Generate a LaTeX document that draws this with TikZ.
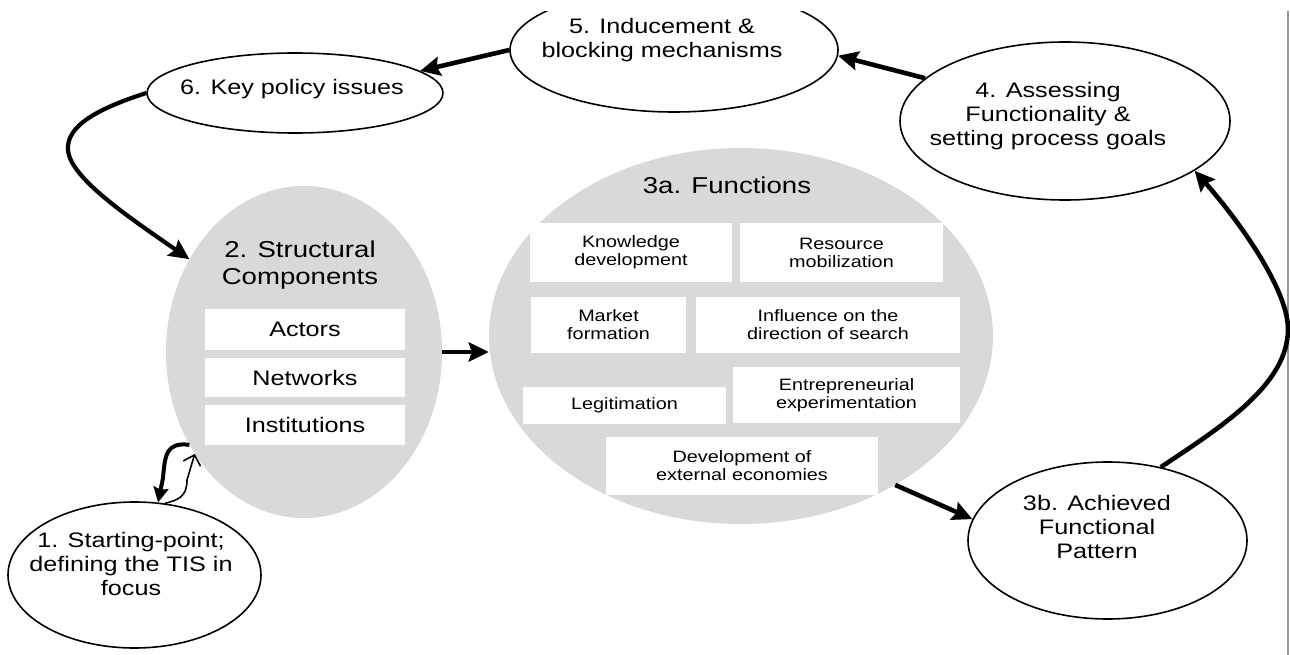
\documentclass[tikz,border=0pt]{standalone}
\usepackage{fontspec}
\setmainfont{Liberation Sans}[FakeStretch=1.2]
\usetikzlibrary{shapes.geometric,arrows.meta}
\definecolor{blobgray}{RGB}{217,217,217}
\definecolor{framegray}{RGB}{150,150,150}
\newcommand{\fsz}[2]{\fontsize{#1}{#2}\selectfont}
\tikzset{
  bub/.style={ellipse, draw=black, line width=1.6pt, inner sep=0pt},
  blob/.style={ellipse, fill=blobgray, inner sep=0pt},
  wbox/.style={rectangle, fill=white, inner sep=0pt, align=center, font=\fsz{16.5}{18}},
  sbox/.style={rectangle, fill=white, inner sep=0pt, align=center, font=\fsz{21}{24}},
  lbl/.style={align=center, inner sep=0pt, font=\fsz{21}{24}},
  ttl/.style={align=center, inner sep=0pt, font=\fsz{23}{27}},
  arr/.style={line width=4.6pt, -{Stealth[length=20pt 0 0,width=19pt 0 0,inset=3pt]}},
  harr/.style={line width=4pt, -{Stealth[length=15pt 0 0,width=15pt 0 0,inset=2pt]}},
  tarr/.style={line width=1.6pt, -{Straight Barb[length=9pt 0 0,width=18pt 0 0]}},
  frameline/.style={draw=framegray, line width=1.2pt},
}
\begin{document}
\begin{tikzpicture}[x=1pt,y=-1pt]
\useasboundingbox (0,0) rectangle (1290,655);
\fill[white] (0,0) rectangle (1290,655);

% gray blobs
\node[blob, minimum width=276pt, minimum height=332pt] (e2) at (304,352) {};
\node[blob, minimum width=504pt, minimum height=376pt] (e3a) at (741,336) {};

% structural components
\node[ttl] (t2) at (300,265) {2. Structural\\Components};
\node[sbox, minimum width=200pt, minimum height=41pt] (actors) at (305,329.5) {Actors};
\node[sbox, minimum width=200pt, minimum height=39pt] (networks) at (305,377.5) {Networks};
\node[sbox, minimum width=200pt, minimum height=40pt] (institutions) at (305,425) {Institutions};

% functions
\node[ttl] (t3a) at (727,185) {3a. Functions};
\node[wbox, minimum width=202pt, minimum height=59pt] (kd) at (631,252.5) {Knowledge\\development};
\node[wbox, minimum width=203pt, minimum height=59pt] (rm) at (841.5,252.5) {Resource\\mobilization};
\node[wbox, minimum width=155pt, minimum height=56pt] (mf) at (608.5,325) {Market\\formation};
\node[wbox, minimum width=264pt, minimum height=56pt] (ids) at (828,325) {Influence on the\\direction of search};
\node[wbox, minimum width=203pt, minimum height=37pt] (leg) at (624.5,405.5) {Legitimation};
\node[wbox, minimum width=227pt, minimum height=56pt] (ee) at (846.5,395) {Entrepreneurial\\experimentation};
\node[wbox, minimum width=272pt, minimum height=58pt] (dee) at (742,466) {Development of\\external economies};

% outlined bubbles
\node[bub, minimum width=296pt, minimum height=80pt] (e6) at (295,93) {};
\node[lbl] (t6) at (292,89) {6. Key policy issues};

\begin{scope}
\clip (0,12) rectangle (1290,655);
\node[bub, minimum width=328pt, minimum height=124pt] (e5) at (674,50) {};
\end{scope}
\node[lbl] (t5) at (662,40) {5. Inducement \&\\blocking mechanisms};

\node[bub, minimum width=330pt, minimum height=158pt] (e4) at (1065,121) {};
\node[lbl] (t4) at (1048,116) {4. Assessing\\Functionality \&\\setting process goals};

\node[bub, minimum width=279pt, minimum height=157pt] (e3b) at (1107.5,540.5) {};
\node[lbl] (t3b) at (1097,527) {3b. Achieved\\Functional\\Pattern};

\node[bub, minimum width=253pt, minimum height=146pt] (e1) at (134.5,575) {};
\node[lbl] (t1) at (131,564) {1. Starting-point;\\defining the TIS in\\focus};

% frame line at right
\draw[frameline] (1288,11) -- (1288,655);

% connectors
\draw[arr] (e5.west) -- (e6.10);
\draw[arr] (e4.163) -- (e5.-2);
\draw[arr, line width=4.2pt] (e6.west) .. controls (100,108) and (66,125) .. (68,150)
   .. controls (70,178) and (130,218) .. (e2.141);
\draw[arr, line width=4.2pt] (e2.east) -- (e3a.west |- e2.east);
\draw[arr] (e3a.-44) -- (e3b.171);
\draw[arr] (e3b.54) .. controls (1221,427) and (1288,385) .. (1288,329)
   .. controls (1288,290) and (1240,222) .. (e4.-21);
\draw[harr] (e2.219) .. controls (166,442) and (165,455) .. (163,478) -- (e1.72);
\draw[tarr] (e1.67) .. controls (178,500) and (187,497) .. (187,480) -- (e2.223);
\end{tikzpicture}
\end{document}
